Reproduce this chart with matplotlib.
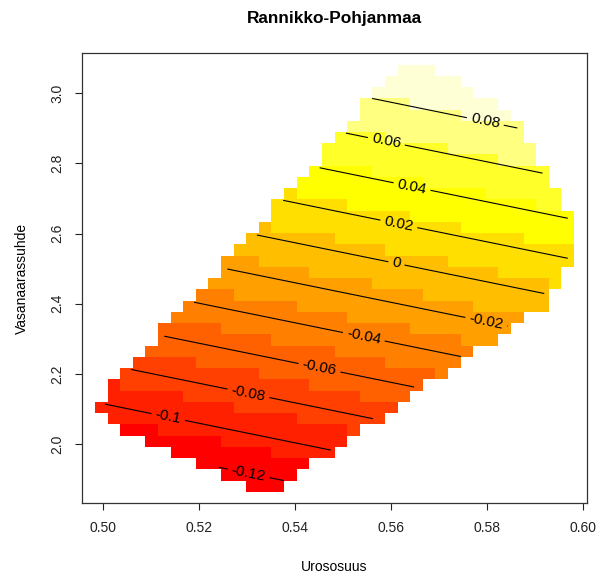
import numpy as np
import matplotlib.pyplot as plt
from matplotlib.colors import ListedColormap, BoundaryNorm

plt.rcParams['font.family'] = ['Liberation Sans', 'DejaVu Sans']

# prediction grid: 40 x 40 cells, frame = outer cell edges
x_range = (0.4956, 0.6008)
y_range = (1.8318, 3.1141)
n_cells = 40

intercept = -0.7147
coef_x = 0.488
coef_y = 0.1753

# cells with data: grid row (from bottom) -> first and last filled column
rows = list(range(1, 39))
first_col = [13, 11, 9, 7, 5, 3, 2, 1, 2, 2, 3, 4, 5, 6, 6, 7, 8, 9, 10, 11,
             11, 12, 13, 14, 15, 15, 16, 17, 18, 19, 19, 20, 21, 22, 22, 23, 24, 25]
last_col = [15, 16, 17, 19, 20, 21, 23, 24, 25, 26, 28, 29, 30, 32, 33, 34, 36, 36, 37, 37,
            38, 38, 38, 38, 38, 37, 37, 36, 36, 35, 35, 34, 34, 33, 32, 30, 29, 27]

levels = [-0.12, -0.1, -0.08, -0.06, -0.04, -0.02, 0, 0.02, 0.04, 0.06, 0.08, 0.1]

# R heat.colors(12)
heat_colors = ['#FF0000', '#FF2000', '#FF4000', '#FF6000', '#FF8000', '#FF9F00',
               '#FFBF00', '#FFDF00', '#FFFF00', '#FFFF2A', '#FFFF80', '#FFFFD5']

# where the contour labels sit
label_x = [0.5795, 0.5589, 0.5643, 0.5615, 0.5610, 0.5797, 0.5542, 0.5450, 0.5302, 0.5135, 0.5302]
label_y = [2.9096, 2.8553, 2.7290, 2.6194, 2.5073, 2.3389, 2.2981, 2.2125, 2.1412, 2.0756, 1.9110]

x_edges = np.linspace(x_range[0], x_range[1], n_cells + 1)
y_edges = np.linspace(y_range[0], y_range[1], n_cells + 1)
x_mid = (x_edges[:-1] + x_edges[1:]) / 2
y_mid = (y_edges[:-1] + y_edges[1:]) / 2
X, Y = np.meshgrid(x_mid, y_mid)
Z = intercept + coef_x * X + coef_y * Y

mask = np.ones(Z.shape, dtype=bool)
for r, a, b in zip(rows, first_col, last_col):
    mask[r, a:b + 1] = False
Zm = np.ma.array(Z, mask=mask)

breaks = np.linspace(Zm.min(), Zm.max(), len(heat_colors) + 1)
cmap = ListedColormap(heat_colors)
norm = BoundaryNorm(breaks, cmap.N)

fig = plt.figure(figsize=(6.09, 5.79), dpi=100)
ax = fig.add_axes([82.3 / 609, 1 - 503 / 579, (586.7 - 82.3) / 609, (503 - 53.3) / 579])

ax.pcolormesh(x_edges, y_edges, Zm, cmap=cmap, norm=norm, shading='flat')
cs = ax.contour(x_mid, y_mid, Zm, levels=levels, colors='black', linewidths=0.8,
                linestyles='solid')
ax.clabel(cs, inline=True, fontsize=11, fmt='%g', inline_spacing=4,
          manual=list(zip(label_x, label_y)))

ax.set_xlim(x_range)
ax.set_ylim(y_range)
ax.set_xticks([0.50, 0.52, 0.54, 0.56, 0.58, 0.60])
ax.set_xticklabels(['0.50', '0.52', '0.54', '0.56', '0.58', '0.60'])
ax.set_yticks([2.0, 2.2, 2.4, 2.6, 2.8, 3.0])
ax.set_yticklabels(['2.0', '2.2', '2.4', '2.6', '2.8', '3.0'])
ax.tick_params(direction='out', length=5, width=0.8, labelsize=10, colors='#222222')
ax.tick_params(axis='x', pad=8)
ax.tick_params(axis='y', pad=8)
plt.setp(ax.get_yticklabels(), rotation=90, va='center')
for s in ax.spines.values():
    s.set_color('#333333')
    s.set_linewidth(0.9)

fig.text(334.5 / 609, 1 - 18 / 579, 'Rannikko-Pohjanmaa', ha='center', va='center',
         fontsize=12.4, fontweight='bold')
fig.text(334.5 / 609, 1 - 567 / 579, 'Urososuus', ha='center', va='center', fontsize=10)
fig.text(22 / 609, 1 - 278 / 579, 'Vasanaarassuhde', ha='center', va='center',
         rotation=90, fontsize=10)

fig.savefig('out.png', dpi=100)
